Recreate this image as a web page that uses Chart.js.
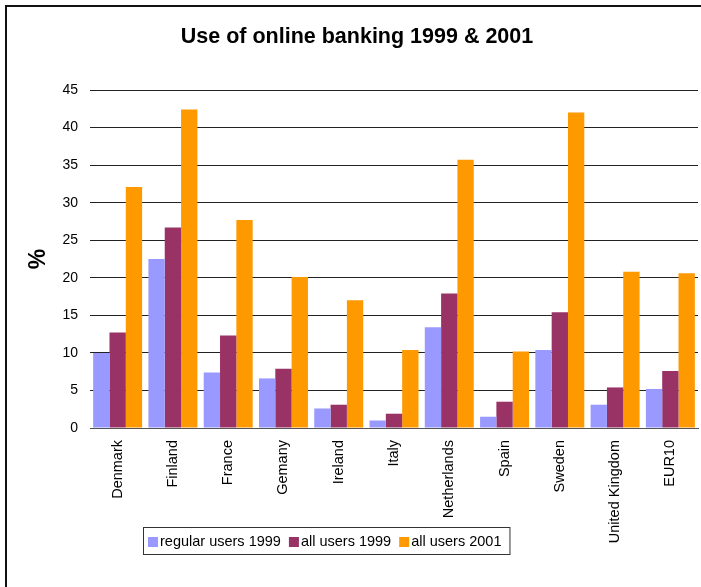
<!DOCTYPE html>
<html>
<head>
<meta charset="utf-8">
<title>Use of online banking 1999 & 2001</title>
<script src="https://cdn.jsdelivr.net/npm/chart.js@4.4.1/dist/chart.umd.min.js"></script>
<style>
  html, body { margin: 0; padding: 0; background: #fff; }
  #wrap { width: 701px; height: 587px; position: relative; }
</style>
</head>
<body>
<div id="wrap"><canvas id="bankChart" width="701" height="587"></canvas></div>
<script>
const countries = ["Denmark", "Finland", "France", "Gemany", "Ireland", "Italy",
  "Netherlands", "Spain", "Sweden", "United Kingdom", "EUR10"];
const regular1999 = [10.0, 22.5, 7.4, 6.6, 2.6, 1.0, 13.4, 1.5, 10.4, 3.1, 5.2];
const all1999 = [12.7, 26.7, 12.3, 7.9, 3.1, 1.9, 17.9, 3.5, 15.4, 5.4, 7.6];
const all2001 = [32.1, 42.4, 27.7, 20.1, 17.0, 10.4, 35.7, 10.2, 42.0, 20.8, 20.6];
const seriesNames = ["regular users 1999", "all users 1999", "all users 2001"];
const seriesColors = ["#9999ff", "#993366", "#ff9900"];
const chartTitle = "Use of online banking 1999 & 2001";

const FONT = "'Liberation Sans', Arial, sans-serif";

// frame round the whole chart (only left and top edges fall inside the canvas)
// plus the title, centred over the frame rather than the canvas
const framePlugin = {
  id: "frame",
  afterDraw(chart) {
    const ctx = chart.ctx;
    ctx.save();
    ctx.strokeStyle = "#111";
    ctx.lineWidth = 2;
    ctx.strokeRect(6, 6, 760, 640);
    ctx.fillStyle = "#000";
    ctx.font = "bold 21.5px " + FONT;
    ctx.textAlign = "center";
    ctx.textBaseline = "middle";
    ctx.fillText(chartTitle, 357, 37);
    ctx.restore();
  }
};

// boxed legend sitting under the category labels
const boxLegend = {
  id: "boxLegend",
  afterDraw(chart) {
    const ctx = chart.ctx;
    const left = 143, top = 527, h = 27;
    ctx.save();
    ctx.font = "14.5px " + FONT;
    ctx.textBaseline = "middle";
    let x = left + 5;
    chart.data.datasets.forEach((ds, i) => {
      ctx.fillStyle = ds.backgroundColor;
      ctx.fillRect(x, top + 10, 10, 10);
      x += 12;
      ctx.fillStyle = "#000";
      ctx.fillText(ds.label, x, top + h / 2 + 1);
      x += ctx.measureText(ds.label).width + 8;
    });
    ctx.strokeStyle = "#333";
    ctx.lineWidth = 1;
    ctx.strokeRect(left + 0.5, top + 0.5, x - left, h);
    ctx.restore();
  }
};

new Chart(document.getElementById("bankChart"), {
  type: "bar",
  data: {
    labels: countries,
    datasets: [regular1999, all1999, all2001].map((vals, i) => ({
      label: seriesNames[i],
      data: vals,
      backgroundColor: seriesColors[i],
      borderWidth: 0,
      categoryPercentage: 0.886,
      barPercentage: 1.0
    }))
  },
  options: {
    responsive: false,
    animation: false,
    layout: { padding: { left: 0, right: 3, top: 90, bottom: 0 } },
    plugins: {
      legend: { display: false },
      tooltip: { enabled: false },
      title: { display: false }
    },
    scales: {
      x: {
        grid: { display: false, drawTicks: false },
        border: { display: true, color: "#555", width: 1 },
        ticks: {
          color: "#000",
          font: { family: FONT, size: 14.5 },
          maxRotation: 90,
          minRotation: 90,
          autoSkip: false,
          padding: 12
        },
        afterFit(scale) { scale.height = 159; }
      },
      y: {
        min: 0,
        max: 45,
        grid: { color: "#222", drawTicks: false },
        border: { display: false },
        ticks: {
          stepSize: 5,
          color: "#000",
          font: { family: FONT, size: 14 },
          padding: 12
        },
        title: {
          display: true,
          text: "%",
          color: "#000",
          font: { family: FONT, size: 23, weight: "bold" },
          padding: { top: 25, bottom: 0 }
        },
        afterFit(scale) { scale.width = 90; }
      }
    }
  },
  plugins: [framePlugin, boxLegend]
});
</script>
</body>
</html>
